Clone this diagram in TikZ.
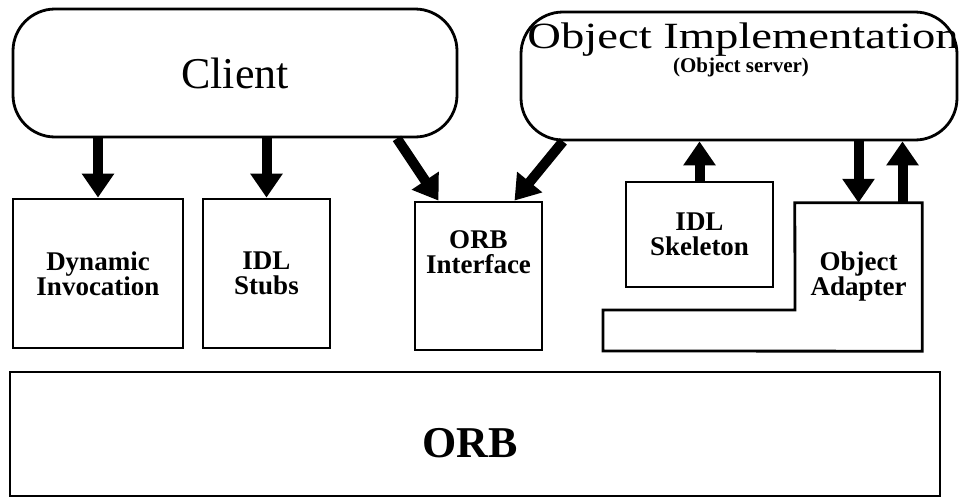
\documentclass[tikz,border=0pt]{standalone}
\usepackage{fontspec}
\usepackage{graphicx}
\setmainfont{Liberation Serif}
\usetikzlibrary{arrows.meta,calc}

\tikzset{
  blk/.style={draw, line width=2.8pt, inner sep=0pt},
  lbl/.style={font=\fontsize{27}{25}\selectfont\bfseries, align=center},
  pipe/.style={line width=10pt, -{Triangle[width=31pt,length=24pt]}},
}

\begin{document}
\begin{tikzpicture}[x=1pt,y=-1pt]
  \useasboundingbox (0,0) rectangle (962,498);

  % top level: client and server
  \node[blk, rounded corners=42pt, minimum width=444pt, minimum height=128pt,
        font=\fontsize{44}{44}\selectfont] (client) at (235,73) {Client};
  \node[blk, rounded corners=42pt, minimum width=436pt, minimum height=128pt] (oi) at (739,76) {};
  \node[anchor=base, font=\fontsize{37}{37}\selectfont] (oititle) at (743,48)
        {\scalebox{1.26}[1]{Object Implementation}};
  \node[anchor=base, font=\fontsize{21}{21}\selectfont\bfseries] (oisub) at (741,72) {(Object server)};

  % client-side components
  \node[blk, lbl, minimum width=170pt, minimum height=149pt] (dii) at (98,273.5) {Dynamic\\Invocation};
  \node[blk, lbl, minimum width=127pt, minimum height=149pt] (stubs) at (266.5,273.5) {IDL\\Stubs};
  \node[blk, minimum width=127pt, minimum height=148pt] (iface) at (478.5,276) {};
  \node[lbl] (ifacetxt) at (478.5,252) {ORB\\Interface};

  % server-side components
  \node[blk, lbl, minimum width=147pt, minimum height=105pt] (skel) at (699.5,234.5) {IDL\\Skeleton};
  \node[lbl, inner sep=0pt, minimum width=127pt, minimum height=148pt] (adapter) at (858.5,277) {Object\\Adapter};
  \draw[line width=2.8pt, line join=miter]
    (adapter.north west) -- (adapter.north east) -- (adapter.south east)
    -- (603,351) -- (603,310) -- (795,310) -- cycle;

  % the broker
  \node[blk, minimum width=930pt, minimum height=124pt] (orb) at (475,434) {};
  \node[anchor=base, font=\fontsize{44}{44}\selectfont\bfseries] (orbtxt) at (470,457) {ORB};

  % calls
  \coordinate (upfoot) at ([xshift=44pt]adapter.north);
  \draw[pipe] (client.south -| dii.north) -- (dii.north);
  \draw[pipe] (client.south -| stubs.north) -- (stubs.north);
  \draw[pipe] ([xshift=162pt]client.south) -- ([xshift=-40pt]iface.north);
  \draw[pipe] ([xshift=-176pt]oi.south) -- ([xshift=36pt]iface.north);
  \draw[pipe] (skel.north) -- (skel.north |- oi.south);
  \draw[pipe] (adapter.north |- oi.south) -- (adapter.north);
  \draw[pipe] (upfoot) -- (upfoot |- oi.south);
\end{tikzpicture}
\end{document}
